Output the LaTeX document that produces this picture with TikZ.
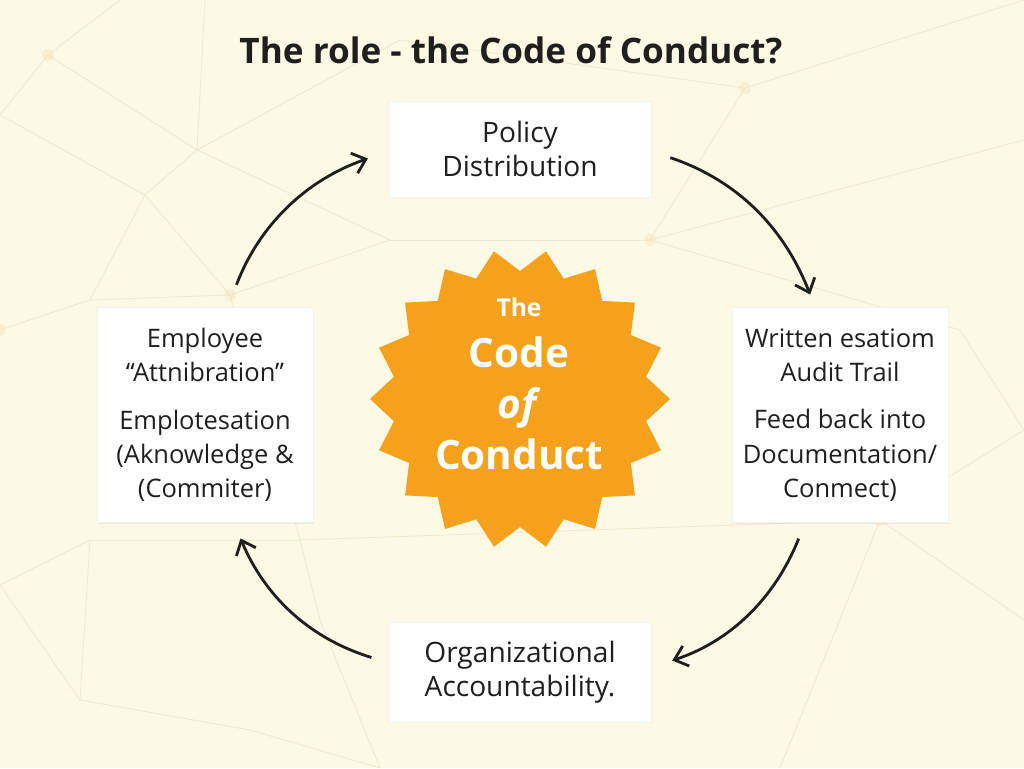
\documentclass[tikz,border=0pt]{standalone}
\usepackage{fontspec}
\setmainfont{Open Sans}
\usetikzlibrary{positioning, calc, shapes, arrows.meta, shadows}

\definecolor{bgcream}{HTML}{FCF9E4}
\definecolor{netline}{HTML}{F2EACF}
\definecolor{netdot}{HTML}{F7DFB4}
\definecolor{starorange}{HTML}{F5A11C}
\definecolor{ink}{HTML}{1F1F1F}

\begin{document}
\begin{tikzpicture}[x=0.02cm, y=0.02cm,
    box/.style={draw=black!5, fill=white, align=center, text=ink, inner sep=0pt,
      drop shadow={opacity=0.12, shadow xshift=0.5pt, shadow yshift=-0.7pt}},
    boxtext/.style={font=\fontsize{14.5}{19.5}\selectfont},
    bigtext/.style={font=\fontsize{16}{19.5}\selectfont},
    cyc/.style={-{Straight Barb[length=7pt,width=12pt]}, line width=1.6pt, ink},
    net/.style={netline, line width=0.5pt}]
  \fill[bgcream] (0,0) rectangle (1024,768);
  \useasboundingbox (0,0) rectangle (1024,768);
  %
  % faint network in the back
  \foreach \ax/\ay/\bx/\by in {48/713/0/653, 48/713/197/618, 48/713/120/768, 197/618/205/768,
      197/618/145/573, 0/653/145/573, 145/573/90/468, 90/468/0/438, 90/468/230/473,
      145/573/230/473, 197/618/400/728, 400/728/745/680, 745/680/1024/768,
      745/680/650/528, 650/528/1024/628, 650/528/960/438, 197/618/390/528,
      390/528/650/528, 230/473/390/528, 0/183/90/228, 90/228/300/228,
      300/228/320/148, 0/183/80/68, 90/228/80/68, 80/68/250/38, 250/38/380/0,
      320/148/380/0, 300/228/880/248, 880/248/1024/148, 880/248/780/0,
      960/438/1024/338, 1024/338/880/248, 230/473/300/228}
    \draw[net] (\ax,\ay) -- (\bx,\by);
  \foreach \dx/\dy in {48/713, 745/680, 650/528, 230/473, 0/438, 880/248}
    \fill[netdot, opacity=0.35] (\dx,\dy) circle (6);
  %
  \node[font=\bfseries\fontsize{20}{24}\selectfont, text=ink] (title) at (511,718)
    {The role - the Code of Conduct?};
  %
  % the four stations
  \node[box, bigtext, minimum width=5.24cm, minimum height=1.92cm] (policy) at (520,619)
    {Policy\\Distribution};
  \node[box, boxtext, minimum width=4.32cm, minimum height=4.3cm] (empl) at (205,353)
    {Employee\\“Attnibration”\\[7.5pt]Emplotesation\\(Aknowledge \&\\(Commiter)};
  \node[box, boxtext, minimum width=4.32cm, minimum height=4.3cm] (written) at (840,353)
    {Written esatiom\\Audit Trail\\[7.5pt]Feed back into\\Documentation/\\Conmect)};
  \node[box, bigtext, minimum width=5.24cm, minimum height=2cm] (org) at (520,96)
    {Organizational\\Accountability.};
  %
  % the seal in the middle
  \coordinate (seal) at (520,369);
  \fill[starorange, shift={(seal)}] (0:150)
    \foreach \k [evaluate=\k as \r using {mod(\k,2)==1 ? 128 : 150}] in {1,...,35}
    { -- (\k*10:\r) } -- cycle;
  \node[text=white, align=center, font=\bfseries\fontsize{23}{29}\selectfont] (coc)
    at (519,384) {{\fontsize{14}{14}\selectfont The}\\Code\\\textit{of}\\Conduct};
  %
  % the cycle
  \draw[cyc, shorten <=0.48cm, shorten >=0.44cm] (empl.78) to[bend left=25] (policy.181);
  \draw[cyc, shorten <=0.4cm, shorten >=0.27cm] (policy.359) to[bend left=25] (written.103);
  \draw[cyc, shorten <=0.34cm, shorten >=0.44cm] (written.252) to[bend left=25] (org.2);
  \draw[cyc, shorten <=0.36cm, shorten >=0.34cm] (org.176) to[bend left=25] (empl.285);
\end{tikzpicture}
\end{document}
